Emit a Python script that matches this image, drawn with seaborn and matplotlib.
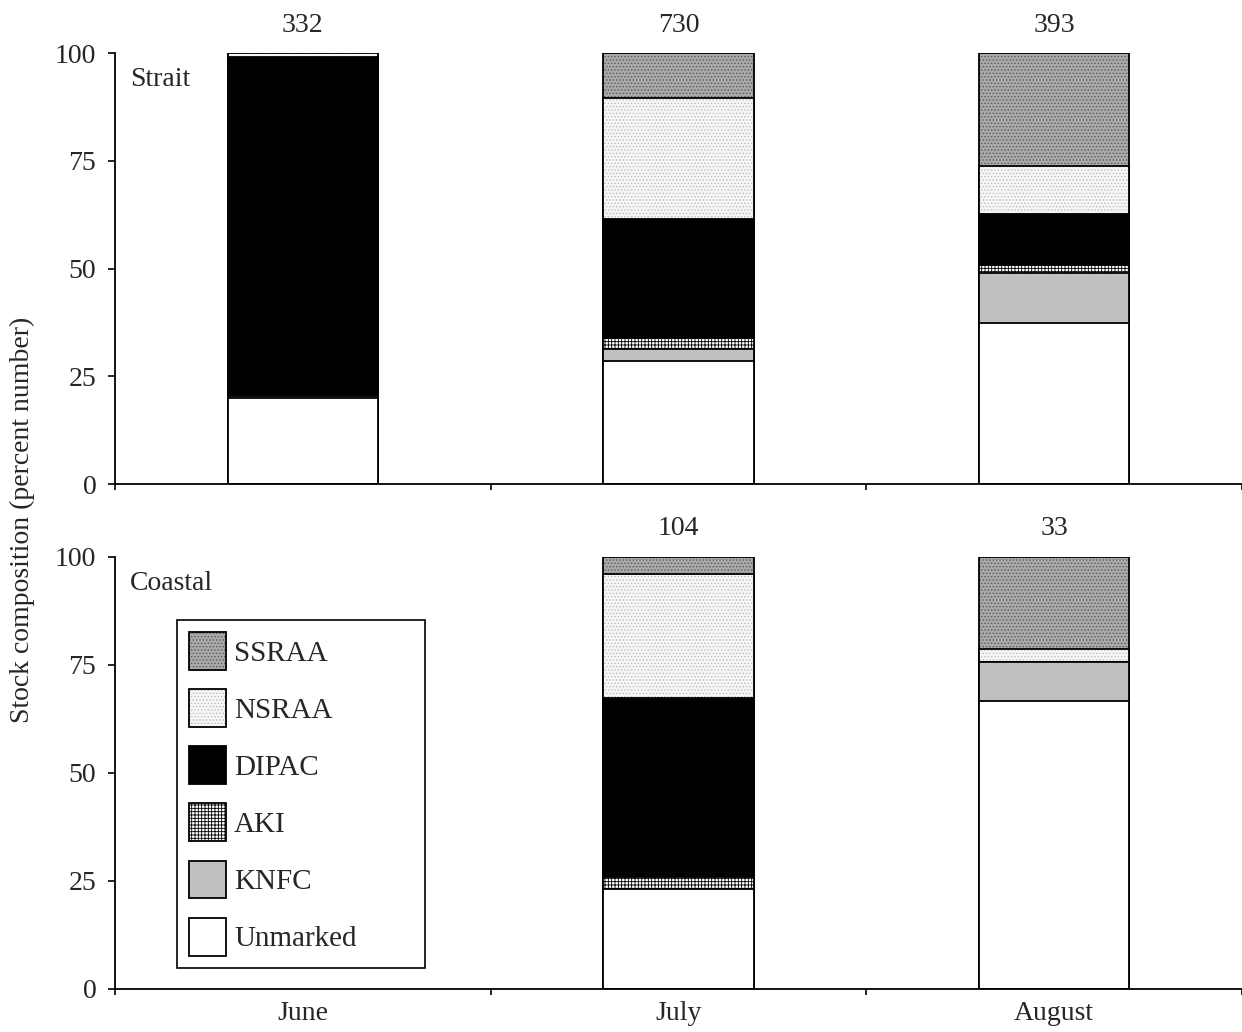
import numpy as np
import matplotlib
matplotlib.use("Agg")
import matplotlib.pyplot as plt
import seaborn as sns
from matplotlib.patches import Patch
from matplotlib.colors import to_rgba

months = ["June", "July", "August"]
stocks = ["Unmarked", "KNFC", "AKI", "DIPAC", "NSRAA", "SSRAA"]

# percent of fish per stock (bottom of stack first)
strait_unmarked = [19.9, 28.6, 37.3]
strait_knfc = [0.6, 2.7, 11.6]
strait_aki = [0.0, 2.6, 1.9]
strait_dipac = [78.6, 27.5, 11.8]
strait_nsraa = [0.9, 28.2, 11.2]
strait_ssraa = [0.0, 10.4, 26.2]
strait_n = [332, 730, 393]

# no coastal sample in June
coastal_months = ["July", "August"]
coastal_unmarked = [23.1, 66.7]
coastal_knfc = [0.0, 9.1]
coastal_aki = [2.9, 0.0]
coastal_dipac = [41.3, 0.0]
coastal_nsraa = [28.8, 3.0]
coastal_ssraa = [3.8, 21.2]
coastal_n = [104, 33]

# face colour, hatch, hatch colour
styles = {
    "Unmarked": ("white", None, "black"),
    "KNFC": ("#c0c0c0", None, "black"),
    "AKI": ("white", "+++++", "black"),
    "DIPAC": ("black", None, "black"),
    "NSRAA": ("#f6f6f6", ".....", "#bdbdbd"),
    "SSRAA": ("#a9a9a9", ".....", "#5a5a5a"),
}

sns.set_style("ticks")
plt.rcParams["font.family"] = ["Liberation Serif", "DejaVu Serif"]
plt.rcParams["hatch.linewidth"] = 0.6
FS = 20


def stack(ax, x, layers):
    cum = np.cumsum(np.array(layers), axis=0)
    # draw cumulative totals from the top down, each covering the one below
    for i in range(len(stocks) - 1, -1, -1):
        face, hatch, hcol = styles[stocks[i]]
        before = len(ax.patches)
        sns.barplot(x=x, y=cum[i], order=months, ax=ax, width=0.4,
                    color=face, saturation=1, errorbar=None,
                    edgecolor="black", linewidth=1.3, hatch=hatch)
        for p in ax.patches[before:]:
            p._hatch_color = to_rgba(hcol)


fig, (ax1, ax2) = plt.subplots(2, 1, figsize=(12.42, 10.32), dpi=100)
ax1.set_position([0.0926, 0.531, 0.9074, 0.4176])
ax2.set_position([0.0926, 0.0417, 0.9074, 0.4186])

stack(ax1, months, [strait_unmarked, strait_knfc, strait_aki,
                    strait_dipac, strait_nsraa, strait_ssraa])
stack(ax2, coastal_months, [coastal_unmarked, coastal_knfc, coastal_aki,
                            coastal_dipac, coastal_nsraa, coastal_ssraa])

for i, n in enumerate(strait_n):
    ax1.text(i, 106.5, str(n), ha="center", va="center", fontsize=FS,
             clip_on=False)
for m, n in zip(coastal_months, coastal_n):
    ax2.text(months.index(m), 106.5, str(n), ha="center", va="center",
             fontsize=FS, clip_on=False)

ax1.text(0.013, 0.938, "Strait", transform=ax1.transAxes, fontsize=FS,
         va="center", ha="left")
ax2.text(0.013, 0.938, "Coastal", transform=ax2.transAxes, fontsize=FS,
         va="center", ha="left")

for ax in (ax1, ax2):
    ax.set_xlim(-0.5, 2.5)
    ax.set_ylim(0, 100)
    ax.set_yticks([0, 25, 50, 75, 100])
    ax.set_xticks([0, 1, 2])
    ax.set_xticks([-0.5, 0.5, 1.5, 2.5], minor=True)
    ax.tick_params(axis="x", which="major", length=0, pad=9, labelsize=FS)
    ax.tick_params(axis="x", which="minor", length=4.5, width=1.2,
                   direction="out", color="black")
    ax.tick_params(axis="y", length=5, width=1.2, pad=8.5, labelsize=FS,
                   direction="out", color="black")
    ax.set_xlabel("")
    ax.set_ylabel("")
    for s in ("top", "right"):
        ax.spines[s].set_visible(False)
    for s in ("left", "bottom"):
        ax.spines[s].set_linewidth(1.3)
        ax.spines[s].set_color("black")

ax1.set_xticklabels([])
ax2.set_xticklabels(months)

handles = []
for s in stocks[::-1]:
    face, hatch, hcol = styles[s]
    h = Patch(facecolor=face, edgecolor="black", hatch=hatch, linewidth=1.3,
              label=s)
    h._hatch_color = to_rgba(hcol)
    handles.append(h)
leg = ax2.legend(handles=handles, loc="lower left", mode="expand",
                 bbox_to_anchor=(0.055, 0.049, 0.22, 0), borderaxespad=0,
                 fontsize=21, handlelength=1.27, handleheight=1.62,
                 labelspacing=0.66, handletextpad=0.27, borderpad=0.42,
                 fancybox=False, framealpha=1)
leg.get_frame().set_edgecolor("black")
leg.get_frame().set_linewidth(1.2)

fig.text(0.018, 0.496, "Stock composition (percent number)", rotation=90,
         ha="center", va="center", fontsize=FS)

fig.savefig("out.png", dpi=100)
